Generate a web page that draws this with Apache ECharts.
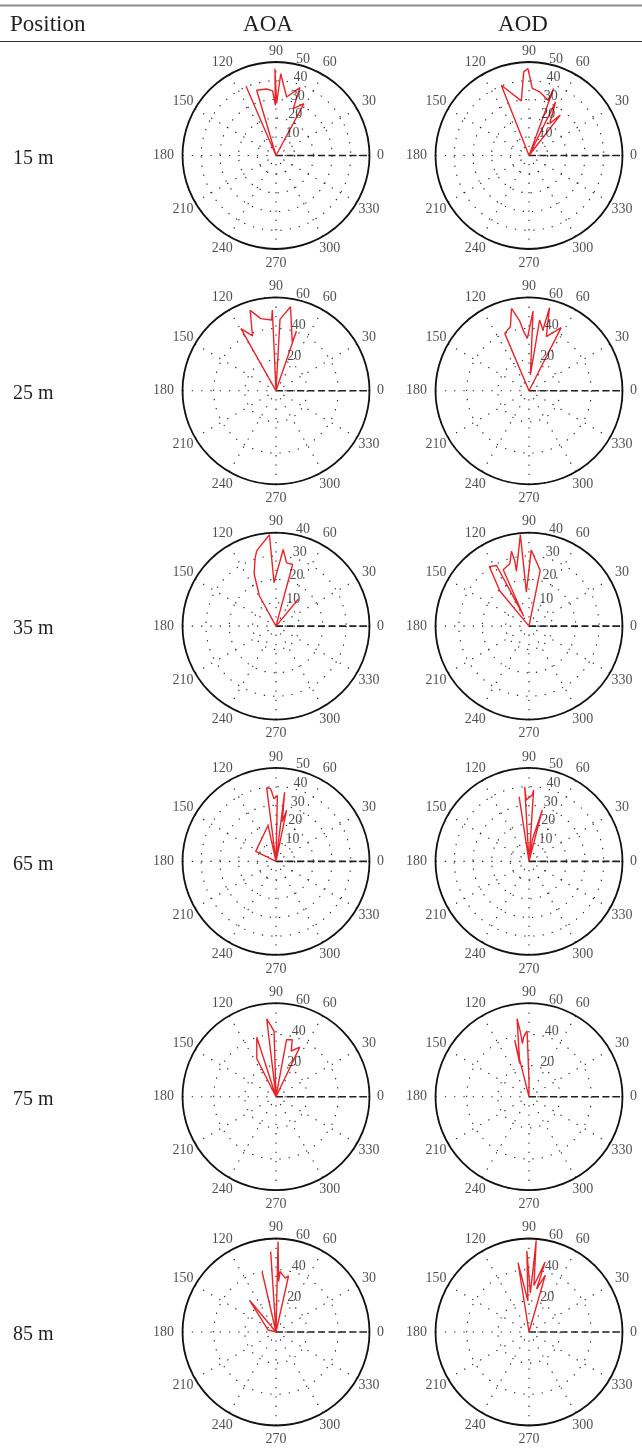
<!DOCTYPE html>
<html>
<head>
<meta charset="utf-8">
<script src="https://cdn.jsdelivr.net/npm/echarts@6/dist/echarts.min.js"></script>
<style>
  html, body { margin: 0; padding: 0; background: #fff; }
  #chart { width: 642px; height: 1449px; }
</style>
</head>
<body>
<div id="chart"></div>
<script>
// Table rows and columns
const positions = ['15 m', '25 m', '35 m', '65 m', '75 m', '85 m'];
const columns = ['AOA', 'AOD'];

// Angle tick labels (degrees) and the angle used for the radial scale labels
const angleTicks = [0, 30, 60, 90, 120, 150, 180, 210, 240, 270, 300, 330];
const radialLabelAngle = 82;

// Radial scale per plot (outer ring value and ring step), one entry per row
const aoaRmax = [50, 60, 40, 50, 60, 60];
const aoaStep = [10, 20, 10, 10, 20, 20];
const aodRmax = [50, 60, 40, 50, 60, 60];
const aodStep = [10, 20, 10, 10, 20, 20];

// Angular power traces: [angle in degrees, magnitude]
const aoa15 = [[0,0],[113.4,40.3],[0,0],[106.5,36.4],[98,35.9],[93,34.6],[90.8,26.9],[90.7,46.4],[89.3,27.8],[86.7,43.8],[79.7,31.8],[70.6,38.5],[69.8,26.7],[61.7,31.5],[0,0]];
const aod15 = [[0,0],[111.5,40.4],[98,29.5],[93.6,44.8],[90.7,46.5],[87.2,35.9],[80.5,34.5],[71,31.3],[69.8,38.2],[0,0],[63.6,32],[57.1,20.4],[52.2,27.3],[0,0]];
const aoa25 = [[0,0],[119.4,45.8],[113.2,38.3],[107.8,54.2],[101.9,47.3],[93.5,45.5],[92.6,51.9],[0,0],[86.8,45.9],[80.2,54.7],[71.4,32.7],[71.1,40.6],[0,0]];
const aod25 = [[0,0],[112.9,40],[106.2,42.8],[102,54],[97.6,45.2],[95.1,38.1],[91.8,33.7],[87.1,51.2],[85,10.3],[81.5,45.9],[77.1,40],[76.1,54.9],[72.3,36.5],[63,45.5],[0,0]];
const aoa35 = [[0,0],[118.8,14.7],[112.7,24.3],[107,30.5],[104.3,33.3],[94.1,39.2],[92.6,18.6],[84.6,32.9],[80.5,27.4],[74.9,27.3],[0,0],[50.4,14.9],[0,0]];
const aod35 = [[0,0],[129.7,19.5],[123.7,30.6],[118.2,29.4],[118.1,4.8],[114.6,26.5],[107.1,27.9],[103.2,32.9],[102.3,28.7],[102.9,24.1],[95.4,39.3],[94.4,14.6],[88.3,32.6],[78.6,24.3],[0,0]];
const aoa65 = [[0,0],[153.8,12.1],[102.5,19.7],[0,0],[97.2,39.8],[94.2,38.9],[91.8,33.5],[88.8,35.2],[0,0],[82.9,37.3],[81,21.6],[78.3,28],[0,0]];
const aod65 = [[0,0],[98.7,35],[0,0],[93.3,40],[92.5,32.9],[87.1,35.6],[86.3,38.3],[0,0],[81.3,11.7],[75.5,28.4],[0,0]];
const aoa75 = [[0,0],[116.8,27.3],[107.9,40.1],[0,0],[96.8,50.3],[91.7,42.1],[0,0],[79.5,37.2],[74.1,38],[71.6,30.9],[64.4,35.3],[0,0]];
const aod75 = [[0,0],[104.2,37.4],[105.6,22.1],[98.7,50.7],[97.6,41.9],[97.1,34.4],[95.1,38.5],[91.7,42.2],[90,10.7],[0,0]];
const aoa85 = [[0,0],[129.8,26.5],[166,5.2],[0,0],[103,39.7],[0,0],[93.8,51.7],[0,0],[88.7,58],[87,32.5],[86.2,38.9],[80.3,35.1],[77.4,37],[0,0]];
const aod85 = [[0,0],[99,45],[92,20],[91.5,52],[88,25],[85.5,59],[84,30],[77,46],[80,28],[74,38],[0,0]];

const aoaTraces = [aoa15, aoa25, aoa35, aoa65, aoa75, aoa85];
const aodTraces = [aod15, aod25, aod35, aod65, aod75, aod85];

// Layout
const R = 93.5;
const colX = [276, 529];
const rowY0 = 155.5;
const rowStep = 235.3;
const serif = 'Liberation Serif';
const ink = '#231f20';
const dotted = { color: '#222', width: 1.1, type: [1.3, 8] };

// Small nudges for a few angle labels so they sit like the printed polar grid
function angleLabelOffset(a) {
  if (a === 0) return [-3, 0];
  if (a === 180) return [-5, 0];
  if (a === 90) return [0, 3];
  return [0, 0];
}

const chart = echarts.init(document.getElementById('chart'), null, { renderer: 'canvas' });

const polar = [], angleAxis = [], radiusAxis = [], series = [];

function textSeries(k, data, formatter, offset) {
  return {
    type: 'scatter', coordinateSystem: 'polar', polarIndex: k, clip: false,
    data, symbol: 'circle', symbolSize: 1,
    itemStyle: { color: 'rgba(0,0,0,0)' }, silent: true, z: 6,
    label: {
      show: true, position: 'inside', offset,
      formatter, fontFamily: serif, fontSize: 14, color: ink,
      align: 'center', verticalAlign: 'middle'
    }
  };
}

function addPlot(row, col, trace, rmax, step) {
  const k = polar.length;
  const cx = colX[col];
  const cy = rowY0 + row * rowStep;
  polar.push({ center: [cx, cy], radius: R });
  angleAxis.push({
    polarIndex: k, type: 'value', min: 0, max: 360, interval: 30,
    startAngle: 0, clockwise: false,
    axisLine: { show: true, lineStyle: { color: '#111', width: 1.8 } },
    axisTick: { show: false },
    axisLabel: { show: false },
    splitLine: { show: true, lineStyle: dotted }
  });
  radiusAxis.push({
    polarIndex: k, type: 'value', min: 0, max: rmax, interval: step,
    axisLine: { show: false }, axisTick: { show: false }, axisLabel: { show: false },
    splitLine: { show: true, lineStyle: dotted }
  });

  // 0-degree reference direction
  series.push({
    type: 'line', coordinateSystem: 'polar', polarIndex: k,
    data: [[0, 0], [rmax, 0]], symbol: 'none', silent: true, z: 3,
    lineStyle: { color: '#222', width: 1.6, type: [7, 3.5] }
  });

  // Angular power trace
  series.push({
    type: 'line', coordinateSystem: 'polar', polarIndex: k,
    data: trace.map(p => [p[1], p[0]]), symbol: 'none', silent: true, z: 5,
    lineStyle: { color: '#e8252b', width: 1.4 }
  });

  // Radial ring labels
  const ringVals = [];
  for (let v = step; v <= rmax + 1e-9; v += step) ringVals.push(v);
  series.push(textSeries(k, ringVals.map(v => [v, radialLabelAngle]),
    p => String(p.value[0]), [14, -4]));

  // Angle labels around the circle
  series.push(textSeries(k,
    angleTicks.map(a => ({ value: [rmax * 1.15, a], label: { offset: angleLabelOffset(a) } })),
    p => String(p.value[1]), [0, 0]));
}

positions.forEach((_, i) => {
  addPlot(i, 0, aoaTraces[i], aoaRmax[i], aoaStep[i]);
  addPlot(i, 1, aodTraces[i], aodRmax[i], aodStep[i]);
});

// Table frame and headings
const headFont = '23px "' + serif + '"';
const graphic = [
  { type: 'line', shape: { x1: 0, y1: 5.5, x2: 642, y2: 5.5 }, style: { stroke: '#8a8a8a', lineWidth: 2 } },
  { type: 'line', shape: { x1: 0, y1: 41.5, x2: 642, y2: 41.5 }, style: { stroke: '#333', lineWidth: 1.2 } },
  { type: 'text', x: 10, y: 25, style: { text: 'Position', font: headFont, fill: ink, verticalAlign: 'middle', align: 'left' } },
  { type: 'text', x: 268, y: 25, style: { text: columns[0], font: headFont, fill: ink, verticalAlign: 'middle', align: 'center' } },
  { type: 'text', x: 523, y: 25, style: { text: columns[1], font: headFont, fill: ink, verticalAlign: 'middle', align: 'center' } }
];
positions.forEach((p, i) => {
  graphic.push({
    type: 'text', x: 13, y: rowY0 + i * rowStep + 3,
    style: { text: p, font: '20px "' + serif + '"', fill: ink, verticalAlign: 'middle', align: 'left' }
  });
});

chart.setOption({
  animation: false,
  backgroundColor: '#fff',
  polar, angleAxis, radiusAxis, series, graphic
});
</script>
</body>
</html>
